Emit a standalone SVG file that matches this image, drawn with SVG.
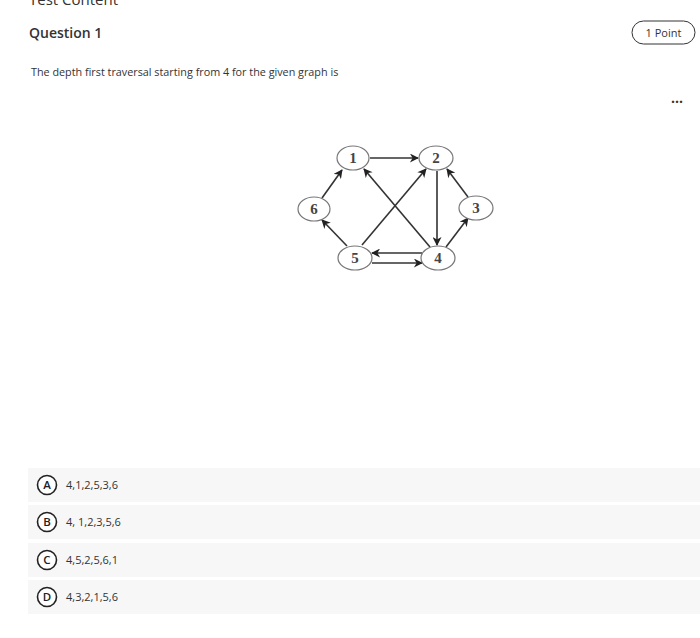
<svg xmlns="http://www.w3.org/2000/svg" width="700" height="638" viewBox="0 0 700 638">
<style>
.ui{font-family:"Open Sans","Liberation Sans",sans-serif;fill:#333}
.nd ellipse{fill:#fff;stroke:#777;stroke-width:1.2}
.nd text{font-family:"Liberation Serif",serif;font-size:15px;font-weight:700;fill:#444;text-anchor:middle}
.ed line{stroke:#333;stroke-width:1.6;marker-end:url(#ah)}
.row{fill:#f7f7f7}
.let{fill:#fff;stroke:#222;stroke-width:1.6}
.lt{font-family:"Open Sans","Liberation Sans",sans-serif;font-size:11.5px;font-weight:600;fill:#222;text-anchor:middle}
.opt{font-family:"Open Sans","Liberation Sans",sans-serif;font-size:11px;fill:#333}
</style>
<defs>
<marker id="ah" viewBox="0 0 10 10" refX="9" refY="5" markerWidth="10" markerHeight="9" markerUnits="userSpaceOnUse" orient="auto"><path d="M0,0 L10,5 L0,10 L3,5 z" fill="#222"/></marker>
</defs>
<rect width="700" height="638" fill="#fff"/>
<text class="ui" x="29" y="5" font-size="15">Test Content</text>
<text class="ui" x="29" y="38" font-size="14" font-weight="600">Question 1</text>
<rect x="632" y="21" width="63" height="23" rx="11.5" fill="#fff" stroke="#333" stroke-width="1"/>
<text class="ui" x="663.5" y="36.5" font-size="11" text-anchor="middle">1 Point</text>
<text class="ui" x="31" y="76" font-size="10.8">The depth first traversal starting from 4 for the given graph is</text>
<text class="ui" x="677" y="103" font-size="14" text-anchor="middle" font-weight="700" fill="#555">...</text>
<g id="edges" class="ed">
<line x1="370" y1="158" x2="418" y2="158"/>
<line x1="322" y1="198" x2="342" y2="170"/>
<line x1="347" y1="246" x2="322" y2="220"/>
<line x1="362" y1="245" x2="426" y2="169"/>
<line x1="430" y1="247" x2="364" y2="169"/>
<line x1="437" y1="171" x2="437" y2="245"/>
<line x1="468" y1="197" x2="447" y2="169"/>
<line x1="446" y1="247" x2="468" y2="218"/>
<line x1="422" y1="253" x2="372" y2="253"/>
<line x1="372" y1="263" x2="422" y2="263"/>
</g>
<g id="n1" class="nd"><ellipse cx="353" cy="158" rx="16" ry="12"/><text x="353" y="163">1</text></g>
<g id="n2" class="nd"><ellipse cx="436" cy="158" rx="17" ry="12"/><text x="436" y="163">2</text></g>
<g id="n3" class="nd"><ellipse cx="476" cy="208" rx="17" ry="12"/><text x="476" y="213">3</text></g>
<g id="n4" class="nd"><ellipse cx="438" cy="258" rx="17" ry="12"/><text x="438" y="263">4</text></g>
<g id="n5" class="nd"><ellipse cx="355" cy="258" rx="17" ry="12"/><text x="355" y="263">5</text></g>
<g id="n6" class="nd"><ellipse cx="314" cy="209" rx="16" ry="12"/><text x="314" y="214">6</text></g>
<g id="optA"><rect class="row" x="28" y="468" width="672" height="34"/><circle class="let" cx="47" cy="485" r="9.5"/><text class="lt" x="47" y="489">A</text><text class="opt" x="66" y="489">4,1,2,5,3,6</text></g>
<g id="optB"><rect class="row" x="28" y="505" width="672" height="34"/><circle class="let" cx="47" cy="522" r="9.5"/><text class="lt" x="47" y="526">B</text><text class="opt" x="66" y="526">4, 1,2,3,5,6</text></g>
<g id="optC"><rect class="row" x="28" y="543" width="672" height="34"/><circle class="let" cx="47" cy="560" r="9.5"/><text class="lt" x="47" y="564">C</text><text class="opt" x="66" y="564">4,5,2,5,6,1</text></g>
<g id="optD"><rect class="row" x="28" y="580" width="672" height="34"/><circle class="let" cx="47" cy="597" r="9.5"/><text class="lt" x="47" y="601">D</text><text class="opt" x="66" y="601">4,3,2,1,5,6</text></g>
</svg>
